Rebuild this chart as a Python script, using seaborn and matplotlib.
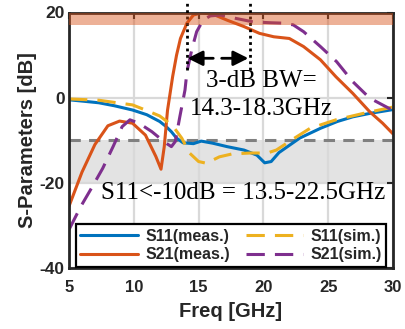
import numpy as np
import pandas as pd
import matplotlib
matplotlib.use('Agg')
import matplotlib.pyplot as plt
import seaborn as sns

# ---------------- data ----------------
s11_meas_f = [5, 6, 7.3, 8.5, 9.9, 11.0, 11.5, 12.0, 12.5, 12.9, 13.3, 13.8, 14.6, 15.2,
              16.1, 17.2, 18.5, 19.5, 20.1, 20.6, 21.2, 22.0, 22.8, 24.4, 25.7, 26.9, 28.2, 30]
s11_meas_db = [-0.5, -0.8, -1.2, -1.9, -2.9, -4.0, -4.8, -5.6, -6.8, -8.0, -9.5, -10.6, -10.8, -10.2,
               -10.7, -11.5, -12.3, -13.5, -15.3, -15.0, -12.9, -11.2, -9.5, -7.2, -5.6, -4.5, -3.7, -2.8]

s21_meas_f = [5, 6, 7, 8, 8.9, 9.9, 10.9, 11.7, 12.1, 12.35, 12.6, 13.0, 13.3, 13.6, 14.1,
              14.6, 15.2, 16.1, 17.2, 18.5, 19.7, 20.8, 22.0, 23.1, 24.4, 25.6, 26.9, 28.2, 29.2, 30]
s21_meas_db = [-25.5, -17.5, -11.0, -6.6, -5.5, -6.0, -8.8, -13.8, -16.8, -11.5, -3.0, 5.0, 10.0, 13.9, 17.5,
               19.4, 19.9, 19.6, 18.2, 16.7, 15.1, 14.3, 13.9, 12.0, 8.9, 4.9, 1.0, -3.3, -6.0, -8.5]

s11_sim_f = [5, 7.3, 9.9, 10.9, 12.0, 13.0, 13.7, 14.3, 15.0, 15.6, 16.6, 17.6, 19.0, 20.3,
             21.0, 22.3, 23.6, 25.6, 27.7, 30]
s11_sim_db = [-0.3, -0.6, -1.7, -2.9, -4.3, -6.6, -9.5, -13.0, -15.0, -15.4, -13.9, -13.2, -13.0, -13.0,
              -12.3, -9.7, -7.2, -5.2, -3.7, -2.2]

s21_sim_f = [5, 5.9, 6.8, 7.6, 8.4, 9.1, 9.7, 10.4, 11.4, 12.4, 12.9, 13.2, 13.55, 13.95, 14.1,
             14.5, 14.85, 15.35, 15.9, 16.7, 17.9, 19.2, 20.5, 21.5, 22.3, 23.1, 24.4, 25.65, 26.9, 28.2, 30]
s21_sim_db = [-31.0, -25.6, -20.9, -16.6, -11.5, -6.8, -5.2, -6.0, -8.0, -10.5, -11.5, -10.3, -4.5, 1.8, 6.1,
              11.6, 15.5, 18.2, 19.2, 19.4, 18.6, 17.8, 17.6, 17.5, 17.1, 15.5, 12.0, 8.45, 3.75, -0.1, -3.0]

series_labels = ['S11(meas.)', 'S21(meas.)', 'S11(sim.)', 'S21(sim.)']
x_ticks = [5, 10, 15, 20, 25, 30]
y_ticks = [-40, -20, 0, 20]
bw_edges = [14.1, 19.0]
text_bw1 = '3-dB BW='
text_bw2 = '14.3-18.3GHz'
text_s11 = 'S11<-10dB = 13.5-22.5GHz'

# ---------------- style ----------------
sns.set_style('white')
plt.rcParams['font.family'] = ['Liberation Sans', 'DejaVu Sans']
plt.rcParams['font.weight'] = 'bold'

c_blue, c_orange, c_yellow, c_purple = '#0072BD', '#D95319', '#EDB120', '#7E2F8E'
dash = (0, (6, 3.3))
dark = '#262626'

fig = plt.figure(figsize=(4.05, 3.29), dpi=100)
ax = fig.add_axes([69 / 405, 1 - 268 / 329, 324 / 405, 255.5 / 329])

# background bands and reference lines
ax.axhspan(-20, -10, color='#E3E3E3', zorder=0.2, lw=0)
ax.axhline(-10, color='#808080', lw=2.2, linestyle=(0, (3.7, 2.7)), zorder=1.5)

# curves
sns.lineplot(x=s11_meas_f, y=s11_meas_db, ax=ax, color=c_blue, lw=2.2, label=series_labels[0], zorder=2)
sns.lineplot(x=s21_meas_f, y=s21_meas_db, ax=ax, color=c_orange, lw=2.2, label=series_labels[1], zorder=2)
sns.lineplot(x=s11_sim_f, y=s11_sim_db, ax=ax, color=c_yellow, lw=2.2, linestyle=dash,
             label=series_labels[2], zorder=2)
sns.lineplot(x=s21_sim_f, y=s21_sim_db, ax=ax, color=c_purple, lw=2.2, linestyle=dash,
             label=series_labels[3], zorder=2)

# translucent orange gain band on top
ax.axhspan(17, 20, color=c_orange, alpha=0.45, lw=0, zorder=4)

# 3-dB bandwidth markers
for xe in bw_edges:
    ax.plot([xe, xe], [6.5, 23], color='black', lw=2.0, linestyle=(0, (1, 1.3)),
            clip_on=False, zorder=3)
ax.annotate('', xy=(bw_edges[0] + 0.05, 9.25), xytext=(16.13, 9.25),
            arrowprops=dict(arrowstyle='-|>,head_length=0.9,head_width=0.45', mutation_scale=10,
                            lw=2, color='black', shrinkA=0, shrinkB=0), zorder=3)
ax.annotate('', xy=(bw_edges[1] - 0.16, 9.25), xytext=(16.78, 9.25),
            arrowprops=dict(arrowstyle='-|>,head_length=0.9,head_width=0.45', mutation_scale=10,
                            lw=2, color='black', shrinkA=0, shrinkB=0), zorder=3)

serif = ['Liberation Serif', 'DejaVu Serif']
ax.text(19.87, 2.44, text_bw1, family=serif, fontweight='normal', fontsize=18,
        ha='center', va='baseline', color='black', zorder=3)
ax.text(19.87, -4.06, text_bw2, family=serif, fontweight='normal', fontsize=18,
        ha='center', va='baseline', color='black', zorder=3)
ax.text(18.45, -23.8, text_s11, family=serif, fontweight='normal', fontsize=18,
        ha='center', va='baseline', color='black', zorder=3)

# axes
ax.set_xlim(5, 30)
ax.set_ylim(-40, 20)
ax.set_xticks(x_ticks)
ax.set_yticks(y_ticks)
ax.set_xticklabels([str(v) for v in x_ticks], fontsize=12, fontweight='bold', color=dark)
ax.set_yticklabels([str(v) for v in y_ticks], fontsize=12.5, fontweight='bold', color=dark)
ax.grid(True, color='#D9D9D9', lw=1.6)
ax.set_axisbelow(True)
ax.tick_params(axis='both', direction='in', top=True, right=True, length=4, width=1.5, color=dark)
ax.tick_params(axis='x', pad=9)
ax.tick_params(axis='y', pad=3)
for side in ['left', 'right', 'bottom', 'top']:
    ax.spines[side].set_visible(True)
    ax.spines[side].set_linewidth(2.0)
    ax.spines[side].set_color(dark)

ax.set_xlabel('Freq [GHz]', fontsize=14.5, fontweight='bold', color=dark, labelpad=5)
ax.set_ylabel('S-Parameters [dB]', fontsize=14.5, fontweight='bold', color=dark, labelpad=2)

leg = ax.legend(ncol=2, loc='lower center', bbox_to_anchor=(0.5, 0.004),
                prop={'weight': 'bold', 'size': 11.5}, handlelength=3.6, handletextpad=0.45,
                columnspacing=1.0, labelspacing=0.2, borderpad=0.3, borderaxespad=0,
                frameon=True, fancybox=False, framealpha=1, edgecolor='black')
leg.get_frame().set_linewidth(1.6)
leg.set_zorder(6)

fig.savefig('out.png', dpi=100)
